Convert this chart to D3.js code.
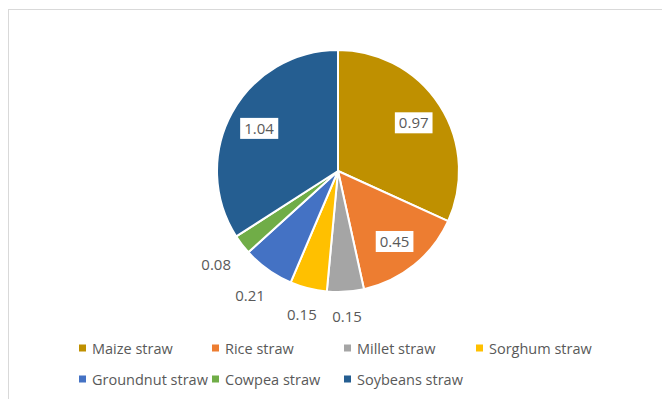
<!DOCTYPE html>
<html>
<head>
<meta charset="utf-8">
<script src="https://cdn.jsdelivr.net/npm/d3@7"></script>
<style>
  html, body { margin: 0; padding: 0; background: #fff; }
  svg { display: block; }
  text { font-family: "Open Sans", sans-serif; fill: #595959; }
</style>
</head>
<body>
<svg id="chart" width="662" height="399"></svg>
<script>
const categories = ["Maize straw", "Rice straw", "Millet straw", "Sorghum straw", "Groundnut straw", "Cowpea straw", "Soybeans straw"];
const values = [0.97, 0.45, 0.15, 0.15, 0.21, 0.08, 1.04];
const labelTexts = ["0.97", "0.45", "0.15", "0.15", "0.21", "0.08", "1.04"];
const colors = ["#BF9000", "#ED7D31", "#A5A5A5", "#FFC000", "#4472C4", "#70AD47", "#255E91"];
const insideLabel = [true, true, false, false, false, false, true];

const svg = d3.select("#chart");

// chart area border
svg.append("rect")
  .attr("x", 8.5).attr("y", 9.5)
  .attr("width", 700).attr("height", 450)
  .attr("fill", "none").attr("stroke", "#D9D9D9").attr("stroke-width", 1);

const cx = 338, cy = 171, r = 121;
const data = categories.map((c, i) => ({ name: c, value: values[i], color: colors[i], label: labelTexts[i], inside: insideLabel[i] }));

const pie = d3.pie().value(d => d.value).sort(null);
const arcs = pie(data);
const arc = d3.arc().innerRadius(0).outerRadius(r);

const g = svg.append("g").attr("transform", `translate(${cx},${cy})`);

g.selectAll("path.slice")
  .data(arcs)
  .join("path")
  .attr("class", "slice")
  .attr("d", arc)
  .attr("fill", d => d.data.color)
  .attr("stroke", "#fff")
  .attr("stroke-width", 2)
  .attr("stroke-linejoin", "round");

const labelFs = 15;
arcs.forEach(d => {
  const mid = (d.startAngle + d.endAngle) / 2;
  const sx = Math.sin(mid), sy = -Math.cos(mid);
  let x, y;
  if (d.data.inside) {
    const rr = 90;
    x = sx * rr; y = sy * rr;
  } else {
    const hw = 16, hh = 8;
    const ext = Math.abs(sx) * hw + Math.abs(sy) * hh;
    const rr = r + 15 + ext;
    x = sx * rr; y = sy * rr;
  }
  const lg = g.append("g").attr("transform", `translate(${x},${y})`);
  const t = lg.append("text")
    .attr("text-anchor", "middle")
    .attr("dominant-baseline", "central")
    .attr("font-size", labelFs)
    .text(d.data.label);
  if (d.data.inside) {
    const bb = t.node().getBBox();
    lg.insert("rect", "text")
      .attr("x", bb.x - 4).attr("y", bb.y)
      .attr("width", bb.width + 8).attr("height", bb.height + 1)
      .attr("fill", "#fff");
  }
});

// legend
const colX = [82.5, 215.5, 347.5, 479.5];
const rowY = [348, 379];
const legend = svg.append("g");
data.forEach((d, i) => {
  const row = i < 4 ? 0 : 1;
  const col = i < 4 ? i : i - 4;
  const lx = colX[col], ly = rowY[row];
  legend.append("rect")
    .attr("x", lx - 3.5).attr("y", ly - 3.5)
    .attr("width", 7).attr("height", 7)
    .attr("fill", d.color);
  legend.append("text")
    .attr("x", lx + 9.5).attr("y", ly)
    .attr("dominant-baseline", "central")
    .attr("font-size", 14.5)
    .text(d.name);
});
</script>
</body>
</html>
